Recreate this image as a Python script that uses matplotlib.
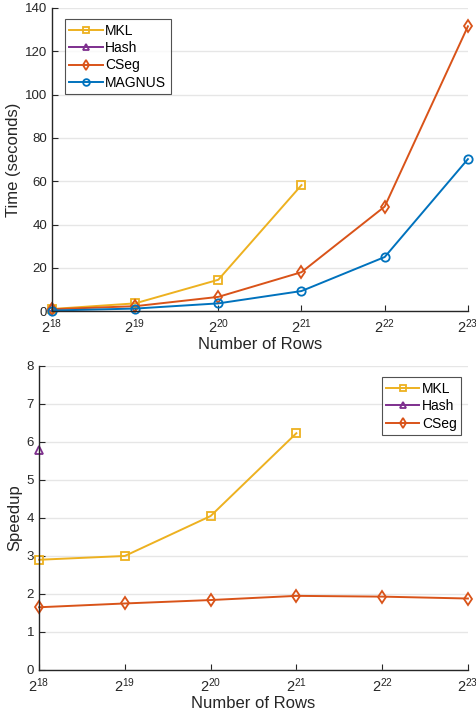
import matplotlib
matplotlib.use("Agg")
import matplotlib.pyplot as plt

plt.rcParams["font.family"] = ["Liberation Sans", "DejaVu Sans"]
plt.rcParams["mathtext.fontset"] = "custom"
plt.rcParams["mathtext.rm"] = "Liberation Sans"
plt.rcParams["mathtext.it"] = "Liberation Sans"

rows_exp = [18, 19, 20, 21, 22, 23]

# time in seconds
time_mkl = [1.0, 3.6, 14.5, 58.2]
time_hash = [2.0]
time_cseg = [0.9, 2.3, 6.6, 18.0, 48.3, 131.5]
time_magnus = [0.3, 1.2, 3.6, 9.3, 25.0, 70.2]

# speedup of MAGNUS over each method
speed_mkl = [2.9, 3.0, 4.05, 6.23]
speed_hash = [5.8]
speed_cseg = [1.65, 1.75, 1.84, 1.95, 1.93, 1.88]

c_mkl = "#EDB120"
c_hash = "#7E2F8E"
c_cseg = "#D95319"
c_magnus = "#0072BD"
tick_col = "#262626"

fig = plt.figure(figsize=(4.76, 7.17), dpi=100)
ax1 = fig.add_axes([0.109, 0.566, 0.874, 0.423])
ax2 = fig.add_axes([0.082, 0.0656, 0.901, 0.424])

kw = dict(lw=1.4, ms=6, mfc="none", mew=1.3)


def style(ax, ymax, ystep, ylabel):
    ax.set_xlim(18, 23)
    ax.set_ylim(0, ymax)
    ax.set_xticks(rows_exp)
    ax.set_xticklabels([r"$2^{%d}$" % e for e in rows_exp])
    ax.set_yticks(range(0, ymax + 1, ystep))
    ax.grid(axis="y", color="#e6e6e6", lw=1.0)
    ax.set_axisbelow(True)
    for s in ["top", "right"]:
        ax.spines[s].set_visible(False)
    for s in ["left", "bottom"]:
        ax.spines[s].set_color(tick_col)
        ax.spines[s].set_linewidth(1.0)
    ax.tick_params(colors=tick_col, labelsize=9.5, direction="in", length=4)
    ax.tick_params(axis="x", labelsize=10.5, pad=4.5)
    ax.set_xlabel("Number of Rows", fontsize=12, color=tick_col, labelpad=1)
    ax.set_ylabel(ylabel, fontsize=12, color=tick_col, labelpad=3)


ax1.plot(rows_exp[:len(time_mkl)], time_mkl, "-s", color=c_mkl, label="MKL", **kw)
ax1.plot(rows_exp[:len(time_hash)], time_hash, "-^", color=c_hash, label="Hash", **kw)
ax1.plot(rows_exp, time_cseg, "-d", color=c_cseg, label="CSeg", **kw)
ax1.plot(rows_exp, time_magnus, "-o", color=c_magnus, label="MAGNUS", **kw)
style(ax1, 140, 20, "Time (seconds)")
leg = ax1.legend(loc="upper left", bbox_to_anchor=(0.015, 0.985), fontsize=10,
                 fancybox=False, edgecolor="#262626", handlelength=2.4,
                 borderpad=0.3, labelspacing=0.25, handletextpad=0.2,
                 markerscale=0.8)
leg.get_frame().set_linewidth(0.8)

ax2.plot(rows_exp[:len(speed_mkl)], speed_mkl, "-s", color=c_mkl, label="MKL", **kw)
ax2.plot(rows_exp[:len(speed_hash)], speed_hash, "-^", color=c_hash, label="Hash", **kw)
ax2.plot(rows_exp, speed_cseg, "-d", color=c_cseg, label="CSeg", **kw)
style(ax2, 8, 1, "Speedup")
leg2 = ax2.legend(loc="upper right", bbox_to_anchor=(1.0, 0.985), fontsize=10,
                  fancybox=False, edgecolor="#262626", handlelength=2.4,
                  borderpad=0.3, labelspacing=0.25, handletextpad=0.2,
                  markerscale=0.8)
leg2.get_frame().set_linewidth(0.8)

for ax in (ax1, ax2):
    for line in ax.get_lines():
        line.set_clip_on(False)

fig.savefig("out.png", dpi=100)
